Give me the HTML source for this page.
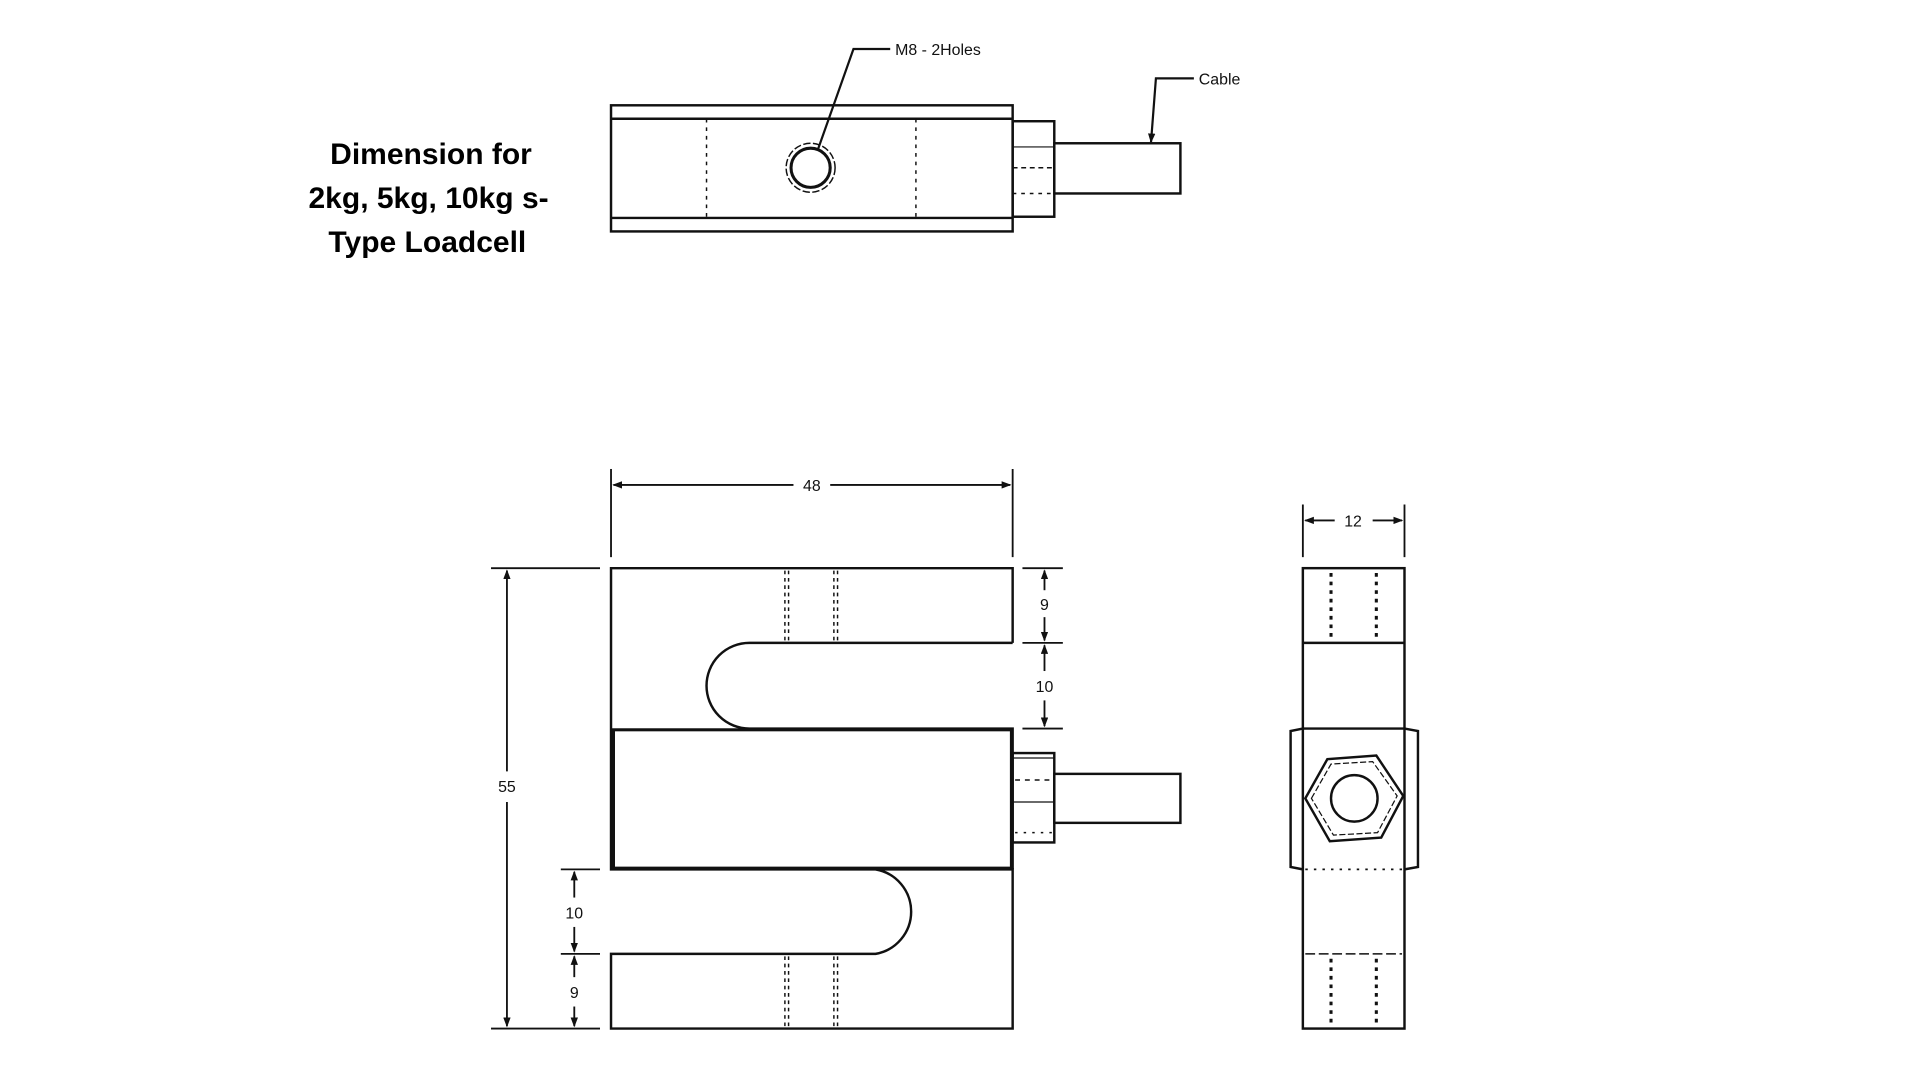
<!DOCTYPE html>
<html><head><meta charset="utf-8"><style>
html,body{margin:0;padding:0;background:#fff;width:1920px;height:1080px;overflow:hidden}
svg{display:block}
</style></head><body>
<svg width="1920" height="1080" viewBox="0 0 1568 882" xmlns="http://www.w3.org/2000/svg" font-family="Liberation Sans, sans-serif">
<defs>
<marker id="a" markerWidth="8" markerHeight="6" refX="7" refY="3" orient="auto" markerUnits="userSpaceOnUse"><path d="M0,0 L8,3 L0,6 z" fill="#111"/></marker>
</defs>
<g font-weight="bold" font-size="24.5" fill="#000" text-anchor="middle">
<text x="352" y="134">Dimension for</text>
<text x="350" y="170">2kg, 5kg, 10kg s-</text>
<text x="349" y="206">Type Loadcell</text>
</g>
<!-- top view -->
<g fill="none" stroke="#111" stroke-width="2">
<rect x="499" y="86" width="328" height="103"/>
<line x1="499" y1="97" x2="827" y2="97"/>
<line x1="499" y1="178" x2="827" y2="178"/>
<line x1="577" y1="97" x2="577" y2="178" stroke-dasharray="3 4" stroke-width="1.2"/>
<line x1="748" y1="97" x2="748" y2="178" stroke-dasharray="3 4" stroke-width="1.2"/>
<circle cx="662" cy="137" r="20" stroke-width="1.2" stroke-dasharray="6 2"/>
<circle cx="662" cy="137" r="16" stroke-width="2.5"/>
<rect x="827" y="99" width="34" height="78"/>
<line x1="827" y1="120" x2="861" y2="120" stroke-width="1"/>
<line x1="827" y1="137" x2="861" y2="137" stroke-dasharray="4 3" stroke-width="1.2"/>
<line x1="827" y1="158" x2="861" y2="158" stroke-dasharray="3 4" stroke-width="1.2"/>
<rect x="861" y="117" width="103" height="41"/>
<polyline points="668,122 697,40 727,40" stroke-width="1.8"/>
<polyline points="975,64 944,64 940,116" stroke-width="1.8" marker-end="url(#a)"/>
</g>
<g font-size="13" fill="#111">
<text x="731" y="45">M8 - 2Holes</text>
<text x="979" y="69">Cable</text>
</g>
<!-- front view -->
<g fill="none" stroke="#111" stroke-width="2">
<path d="M827,525 L827,464 L499,464 L499,710 L827,710 L827,840 L499,840 L499,779 L715,779 A35,35 0 0 0 715,710"/>
<path d="M827,525 L612,525 A35,35 0 0 0 612,595 L827,595 L827,710"/>
<rect x="501" y="596" width="325" height="113" stroke-width="2.5"/>
<g stroke-width="1.2" stroke-dasharray="3 3">
<line x1="641" y1="466" x2="641" y2="524"/><line x1="644" y1="466" x2="644" y2="524"/>
<line x1="681" y1="466" x2="681" y2="524"/><line x1="684" y1="466" x2="684" y2="524"/>
<line x1="641" y1="781" x2="641" y2="839"/><line x1="644" y1="781" x2="644" y2="839"/>
<line x1="681" y1="781" x2="681" y2="839"/><line x1="684" y1="781" x2="684" y2="839"/>
</g>
<rect x="827" y="615" width="34" height="73"/>
<line x1="827" y1="619" x2="861" y2="619" stroke-width="1"/>
<line x1="827" y1="655" x2="861" y2="655" stroke-width="1"/>
<line x1="829" y1="637" x2="859" y2="637" stroke-dasharray="4 4" stroke-width="1.2"/>
<line x1="829" y1="680" x2="859" y2="680" stroke-dasharray="2 5" stroke-width="1.2"/>
<rect x="861" y="632" width="103" height="40"/>
</g>
<!-- dimensions -->
<g fill="none" stroke="#111" stroke-width="1.5">
<line x1="499" y1="383" x2="499" y2="455"/><line x1="827" y1="383" x2="827" y2="455"/>
<line x1="648" y1="396" x2="501" y2="396" marker-end="url(#a)"/>
<line x1="678" y1="396" x2="825" y2="396" marker-end="url(#a)"/>
<line x1="401" y1="464" x2="490" y2="464"/><line x1="401" y1="840" x2="490" y2="840"/>
<line x1="414" y1="630" x2="414" y2="466" marker-end="url(#a)"/>
<line x1="414" y1="655" x2="414" y2="838" marker-end="url(#a)"/>
<line x1="835" y1="464" x2="868" y2="464"/><line x1="835" y1="525" x2="868" y2="525"/><line x1="835" y1="595" x2="868" y2="595"/>
<line x1="853" y1="482" x2="853" y2="466" marker-end="url(#a)"/>
<line x1="853" y1="504" x2="853" y2="523" marker-end="url(#a)"/>
<line x1="853" y1="548" x2="853" y2="527" marker-end="url(#a)"/>
<line x1="853" y1="572" x2="853" y2="593" marker-end="url(#a)"/>
<line x1="458" y1="710" x2="490" y2="710"/><line x1="458" y1="779" x2="490" y2="779"/>
<line x1="469" y1="733" x2="469" y2="712" marker-end="url(#a)"/>
<line x1="469" y1="757" x2="469" y2="777" marker-end="url(#a)"/>
<line x1="469" y1="798" x2="469" y2="781" marker-end="url(#a)"/>
<line x1="469" y1="822" x2="469" y2="838" marker-end="url(#a)"/>
<line x1="1064" y1="412" x2="1064" y2="455"/><line x1="1147" y1="412" x2="1147" y2="455"/>
<line x1="1090" y1="425" x2="1066" y2="425" marker-end="url(#a)"/>
<line x1="1121" y1="425" x2="1145" y2="425" marker-end="url(#a)"/>
</g>
<g font-size="13" fill="#111" text-anchor="middle">
<text x="663" y="401">48</text>
<text x="414" y="647">55</text>
<text x="853" y="498">9</text>
<text x="853" y="565">10</text>
<text x="469" y="750">10</text>
<text x="469" y="815">9</text>
<text x="1105" y="430">12</text>
</g>
<!-- side view -->
<g fill="none" stroke="#111" stroke-width="2">
<rect x="1064" y="464" width="83" height="376"/>
<line x1="1064" y1="525" x2="1147" y2="525"/>
<path d="M1064,595 L1054,597 L1054,708 L1064,710 M1147,595 L1158,597 L1158,708 L1147,710"/>
<line x1="1064" y1="595" x2="1147" y2="595"/>
<polygon points="1066,652 1084,620 1124,617 1146,650 1128,684 1086,687"/>
<polygon points="1071,652 1087,624 1121,622 1141,650 1125,680 1089,682" stroke-width="1" stroke-dasharray="5 2"/>
<circle cx="1106" cy="652" r="19"/>
<line x1="1066" y1="710" x2="1145" y2="710" stroke-dasharray="2 5" stroke-width="1.5"/>
<line x1="1066" y1="779" x2="1145" y2="779" stroke-dasharray="8 3" stroke-width="1.3"/>
<g stroke-width="2.5" stroke-dasharray="3 4">
<line x1="1087" y1="468" x2="1087" y2="523"/><line x1="1124" y1="468" x2="1124" y2="523"/>
<line x1="1087" y1="783" x2="1087" y2="838"/><line x1="1124" y1="783" x2="1124" y2="838"/>
</g>
</g>
</svg>
</body></html>
